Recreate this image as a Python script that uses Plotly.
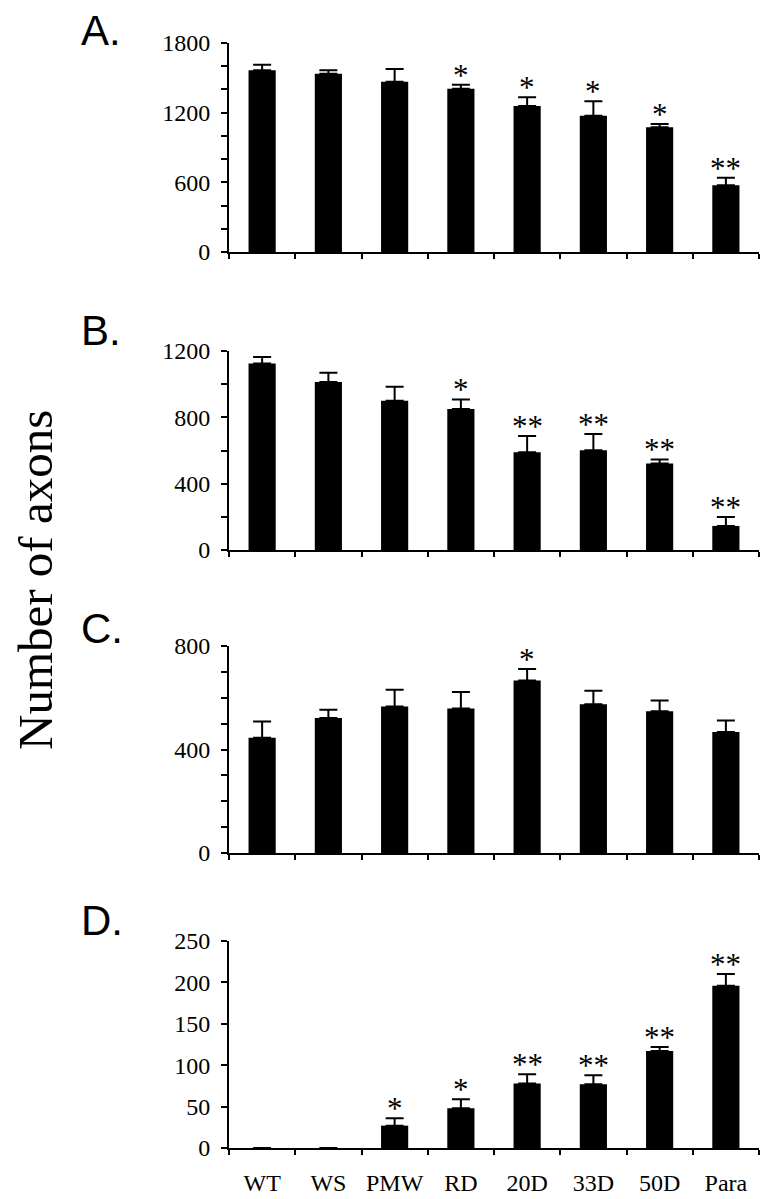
import plotly.graph_objects as go

# group labels shared by all panels
groups = ["WT", "WS", "PMW", "RD", "20D", "33D", "50D", "Para"]

# panel A
a_mean = [1565, 1536, 1467, 1407, 1257, 1174, 1074, 574]
a_err = [48, 30, 110, 34, 75, 124, 28, 66]
a_sig = ["", "", "", "*", "*", "*", "*", "**"]

# panel B
b_mean = [1124, 1013, 900, 850, 589, 601, 522, 145]
b_err = [40, 56, 85, 58, 99, 99, 24, 54]
b_sig = ["", "", "", "*", "**", "**", "**", "**"]

# panel C
c_mean = [445, 522, 566, 558, 667, 575, 548, 468]
c_err = [63, 32, 65, 64, 44, 52, 41, 44]
c_sig = ["", "", "", "", "*", "", "", ""]

# panel D
d_mean = [0, 0, 27, 48, 78, 77, 117, 196]
d_err = [0, 0, 9, 11, 11, 11, 5, 14]
d_sig = ["", "", "*", "*", "**", "**", "**", "**"]

W, H = 770, 1199
OFF = 8  # page body margin
SERIF = "Liberation Serif"
SANS = "Liberation Sans"


def fx(px):
    return (px - OFF) / W


def fy(px):
    return 1 - (px - OFF) / H


# (letter, mean, err, sig, axis max, minor step, label step, top px, bottom px, letter centre px)
panels = [
    ("A.", a_mean, a_err, a_sig, 1800, 200, 600, 43, 252, 30),
    ("B.", b_mean, b_err, b_sig, 1200, 200, 400, 351, 550, 330),
    ("C.", c_mean, c_err, c_sig, 800, 100, 400, 646, 853, 628),
    ("D.", d_mean, d_err, d_sig, 250, 50, 50, 941, 1148, 920),
]

X0, X1 = 229, 759

fig = go.Figure()
annotations = []

for i, (letter, mean, err, sig, top, minor, major, ptop, pbot, lc) in enumerate(panels, start=1):
    xa = f"x{i}" if i > 1 else "x"
    ya = f"y{i}" if i > 1 else "y"
    fig.add_trace(go.Bar(
        x=groups,
        y=mean,
        xaxis=xa,
        yaxis=ya,
        marker=dict(color="black", line=dict(width=0)),
        error_y=dict(
            type="data",
            symmetric=False,
            array=err,
            arrayminus=[0] * len(err),
            color="black",
            thickness=2,
            width=9,
        ),
        showlegend=False,
        hoverinfo="x+y",
    ))

    tickvals = list(range(0, top + 1, minor))
    ticktext = [str(v) if v % major == 0 else "" for v in tickvals]

    xkey = "xaxis" if i == 1 else f"xaxis{i}"
    ykey = "yaxis" if i == 1 else f"yaxis{i}"
    fig.layout[xkey] = dict(
        domain=[fx(X0), fx(X1)],
        anchor=ya,
        type="category",
        range=[-0.5, len(groups) - 0.5],
        showline=True,
        linecolor="black",
        linewidth=2,
        ticks="outside",
        tickson="boundaries",
        ticklen=5,
        tickwidth=1.5,
        tickcolor="black",
        showgrid=False,
        showticklabels=(i == 4),
        tickangle=0,
        tickfont=dict(family=SERIF, size=24, color="black"),
        ticklabelstandoff=12,
        automargin=False,
    )
    fig.layout[ykey] = dict(
        domain=[fy(pbot), fy(ptop)],
        anchor=xa,
        range=[0, top],
        tickvals=tickvals,
        ticktext=ticktext,
        showline=True,
        linecolor="black",
        linewidth=2,
        ticks="outside",
        ticklen=6,
        tickwidth=2,
        tickcolor="black",
        showgrid=False,
        zeroline=False,
        tickfont=dict(family=SERIF, size=24, color="black"),
        ticklabelstandoff=6,
        automargin=False,
    )
    # inner half of the cross ticks
    fig.layout[f"yaxis{i + 4}"] = dict(
        overlaying=ya,
        anchor=xa,
        side="left",
        range=[0, top],
        tickvals=tickvals,
        ticks="inside",
        ticklen=6,
        tickwidth=2,
        tickcolor="black",
        showticklabels=False,
        showline=False,
        showgrid=False,
        zeroline=False,
        automargin=False,
    )

    # significance stars
    for g, m, e, s in zip(groups, mean, err, sig):
        if s:
            annotations.append(dict(
                x=g, y=m + e, xref=xa, yref=ya,
                text=s, showarrow=False,
                yanchor="bottom", yshift=-10,
                font=dict(family=SERIF, size=31, color="black"),
            ))

    # panel letter
    annotations.append(dict(
        x=fx(79), y=fy(lc), xref="paper", yref="paper",
        text=letter, showarrow=False,
        xanchor="left", yanchor="middle",
        font=dict(family=SANS, size=42, color="black"),
    ))

annotations.append(dict(
    x=fx(35), y=fy(580), xref="paper", yref="paper",
    text="Number of axons", showarrow=False, textangle=-90,
    xanchor="center", yanchor="middle",
    font=dict(family=SERIF, size=49, color="black"),
))

fig.update_layout(
    width=W,
    height=H,
    margin=dict(l=0, r=0, t=0, b=0, autoexpand=False),
    paper_bgcolor="white",
    plot_bgcolor="white",
    bargap=0.59,
    annotations=annotations,
)

fig.write_html("out.html")
